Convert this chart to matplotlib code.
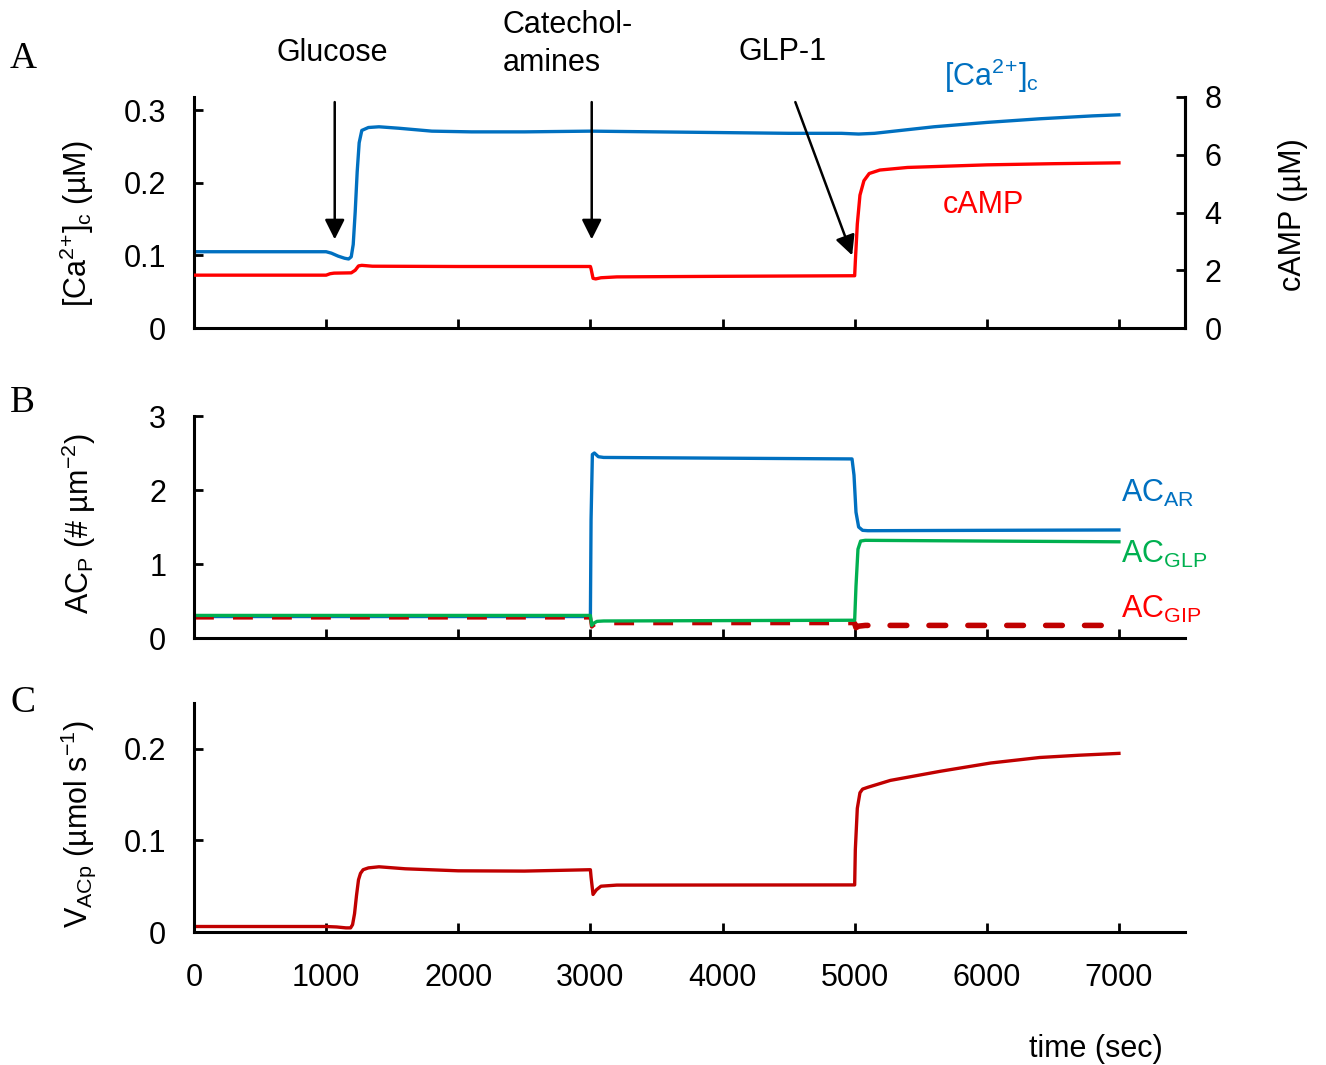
import matplotlib
matplotlib.use("Agg")
import matplotlib.pyplot as plt

plt.rcParams['font.family'] = ['Liberation Sans', 'DejaVu Sans']
plt.rcParams['mathtext.fontset'] = 'custom'
plt.rcParams['mathtext.rm'] = 'Liberation Sans'
plt.rcParams['mathtext.it'] = 'Liberation Sans:italic'
plt.rcParams['mathtext.bf'] = 'Liberation Sans:bold'

# ---- panel A: cytosolic Ca2+ (left axis, uM) and cAMP (right axis, uM)
ca_t = [0, 1000, 1040, 1090, 1140, 1170, 1190, 1205, 1220, 1235, 1250, 1270, 1320,
        1400, 1550, 1800, 2100, 2500, 3000, 3500, 4000, 4500, 4900, 5030, 5150,
        5300, 5600, 6000, 6400, 6800, 7000]
ca = [0.105, 0.105, 0.103, 0.099, 0.096, 0.095, 0.098, 0.115, 0.160, 0.215, 0.255,
      0.272, 0.276, 0.277, 0.275, 0.271, 0.270, 0.270, 0.271, 0.270, 0.269, 0.268,
      0.268, 0.267, 0.268, 0.271, 0.277, 0.283, 0.288, 0.292, 0.2935]

camp_t = [0, 1000, 1030, 1060, 1190, 1220, 1245, 1270, 1350, 2000, 3000, 3005,
          3020, 3040, 3080, 3200, 4000, 5000, 5005, 5020, 5040, 5070, 5110, 5190,
          5400, 6000, 6500, 7000]
camp = [1.83, 1.83, 1.88, 1.90, 1.91, 2.00, 2.15, 2.17, 2.14, 2.13, 2.13, 2.05,
        1.72, 1.70, 1.74, 1.77, 1.79, 1.81, 2.30, 3.60, 4.60, 5.10, 5.35, 5.47,
        5.56, 5.65, 5.69, 5.72]

# ---- panel B: activated adenylyl cyclases (# um^-2)
ar_t = [0, 3000, 3005, 3015, 3030, 3060, 3100, 4000, 4980, 4995, 5010, 5030,
        5060, 5100, 6000, 7000]
ac_ar = [0.29, 0.29, 1.60, 2.48, 2.50, 2.45, 2.44, 2.43, 2.42, 2.20, 1.70, 1.50,
         1.455, 1.45, 1.455, 1.46]

glp_t = [0, 3000, 3010, 3025, 3050, 3100, 4000, 5000, 5010, 5025, 5045, 5080,
         6000, 7000]
ac_glp = [0.305, 0.305, 0.17, 0.20, 0.225, 0.23, 0.235, 0.24, 0.70, 1.20, 1.31,
          1.32, 1.31, 1.30]

gip_t = [0, 3000, 3010, 3030, 3080, 4000, 5000, 5010, 5030, 5080, 6000, 7000]
ac_gip = [0.273, 0.273, 0.15, 0.18, 0.196, 0.196, 0.196, 0.14, 0.16, 0.17, 0.17,
          0.17]

# ---- panel C: adenylyl cyclase production rate (umol s^-1)
vac_t = [0, 1000, 1080, 1150, 1185, 1200, 1215, 1230, 1245, 1260, 1280, 1320,
         1400, 1600, 2000, 2500, 3000, 3005, 3020, 3045, 3080, 3200, 4000, 5000,
         5005, 5020, 5040, 5060, 5100, 5270, 5650, 6030, 6400, 6700, 7000]
v_acp = [0.006, 0.006, 0.0055, 0.0045, 0.0045, 0.008, 0.020, 0.040, 0.057,
         0.064, 0.068, 0.070, 0.0712, 0.069, 0.0668, 0.0665, 0.068, 0.060, 0.041,
         0.046, 0.050, 0.0512, 0.0513, 0.0514, 0.090, 0.135, 0.152, 0.156, 0.158,
         0.1655, 0.1755, 0.1845, 0.1905, 0.193, 0.195]

x_ticks = [0, 1000, 2000, 3000, 4000, 5000, 6000, 7000]

BLUE = '#0070C0'
RED = '#FF0000'
GREEN = '#00B050'
DARKRED = '#C00000'

W, H = 1326, 1065
fig = plt.figure(figsize=(W / 100, H / 100), dpi=100)


def box(top, bottom, left=194, right=1185):
    return [left / W, 1 - bottom / H, (right - left) / W, (bottom - top) / H]


def ftext(x, y, s, **kw):
    kw.setdefault('fontsize', 22)
    return fig.text(x / W, 1 - y / H, s, **kw)


LW = 2.4
FS = 22


def style(ax, right=False):
    ax.spines['top'].set_visible(False)
    if not right:
        ax.spines['right'].set_visible(False)
    for sp in ax.spines.values():
        sp.set_linewidth(2.2)
    ax.set_xlim(0, 7500)
    ax.set_xticks(x_ticks)
    ax.tick_params(axis='both', direction='in', length=6.5, width=2.0,
                   labelsize=FS, pad=20)


axA = fig.add_axes(box(97, 328))
axB = fig.add_axes(box(416, 638))
axC = fig.add_axes(box(703, 932))

CA_LABEL = r'[Ca$^{2}$$^{+}$]$_{\mathrm{c}}$'

# Panel A
style(axA, right=True)
axA.plot(ca_t, ca, color=BLUE, lw=LW, solid_joinstyle='round')
axA.set_ylim(0, 0.318)
axA.set_yticks([0, 0.1, 0.2, 0.3])
axA.set_yticklabels(['0', '0.1', '0.2', '0.3'])
axA.tick_params(axis='x', labelbottom=False)
axA2 = axA.twinx()
axA2.set_position(axA.get_position())
axA2.plot(camp_t, camp, color=RED, lw=LW, solid_joinstyle='round')
axA2.set_ylim(0, 8)
axA2.set_yticks([0, 2, 4, 6, 8])
axA2.spines['top'].set_visible(False)
axA2.spines['left'].set_visible(False)
axA2.spines['right'].set_linewidth(2.2)
axA2.tick_params(axis='y', direction='in', length=6.5, width=2.0,
                 labelsize=FS, pad=14)

arrow_kw = dict(arrowstyle='-|>,head_length=0.6,head_width=0.3',
                mutation_scale=20, lw=1.8, color='k', shrinkA=0, shrinkB=0)
axA.annotate('', xy=(1065, 0.122), xytext=(1065, 0.311),
             arrowprops=arrow_kw, annotation_clip=False)
axA.annotate('', xy=(3010, 0.122), xytext=(3010, 0.311),
             arrowprops=arrow_kw, annotation_clip=False)
axA.annotate('', xy=(4981, 0.100), xytext=(4551, 0.311),
             arrowprops=arrow_kw, annotation_clip=False)

ftext(332, 61, 'Glucose', ha='center', va='baseline')
ftext(503, 33, 'Catechol-', ha='left', va='baseline')
ftext(503, 71, 'amines', ha='left', va='baseline')
ftext(783, 60, 'GLP-1', ha='center', va='baseline')
ftext(944, 86, CA_LABEL, ha='left', va='baseline', color=BLUE)
ftext(943, 213, 'cAMP', ha='left', va='baseline', color=RED)
ftext(77, 224, CA_LABEL + ' (µM)', ha='center', va='center', rotation=90)
ftext(1293, 215, 'cAMP (µM)', ha='center', va='center', rotation=90)

# Panel B
style(axB)
axB.plot(ar_t, ac_ar, color=BLUE, lw=LW, solid_joinstyle='round')
split = gip_t.index(5000)
axB.plot(gip_t[:split + 1], ac_gip[:split + 1], color=DARKRED, lw=2.6,
         linestyle=(0, (5.5, 5.3)), dash_capstyle='butt')
axB.plot(gip_t[split:], ac_gip[split:], color=DARKRED, lw=4.0,
         linestyle=(0, (3.0, 4.0)), dash_capstyle='round')
axB.plot(glp_t, ac_glp, color=GREEN, lw=LW, solid_joinstyle='round')
axB.set_ylim(0, 3)
axB.set_yticks([0, 1, 2, 3])
axB.tick_params(axis='x', labelbottom=False)
ftext(1121, 502, r'AC$_{\mathrm{AR}}$', ha='left', va='baseline', color=BLUE)
ftext(1121, 563, r'AC$_{\mathrm{GLP}}$', ha='left', va='baseline', color=GREEN)
ftext(1121, 618, r'AC$_{\mathrm{GIP}}$', ha='left', va='baseline', color=RED)
ftext(79, 524, r'AC$_{\mathrm{P}}$ (# µm$^{-2}$)', ha='center', va='center',
      rotation=90)

# Panel C
style(axC)
axC.plot(vac_t, v_acp, color=DARKRED, lw=LW, solid_joinstyle='round')
axC.set_ylim(0, 0.25)
axC.set_yticks([0, 0.1, 0.2])
axC.set_yticklabels(['0', '0.1', '0.2'])
axC.set_xticklabels([str(t) for t in x_ticks])
axC.tick_params(axis='x', pad=22)
ftext(78, 824, r'V$_{\mathrm{ACp}}$ (µmol s$^{-1}$)', ha='center', va='center',
      rotation=90)
ftext(1096, 1057, 'time (sec)', ha='center', va='baseline')

# panel letters
for letter, y in (('A', 68), ('B', 412), ('C', 712)):
    ftext(10, y, letter, ha='left', va='baseline', fontsize=27,
          family=['Liberation Serif', 'DejaVu Serif'])

fig.savefig('out.png', dpi=100)
